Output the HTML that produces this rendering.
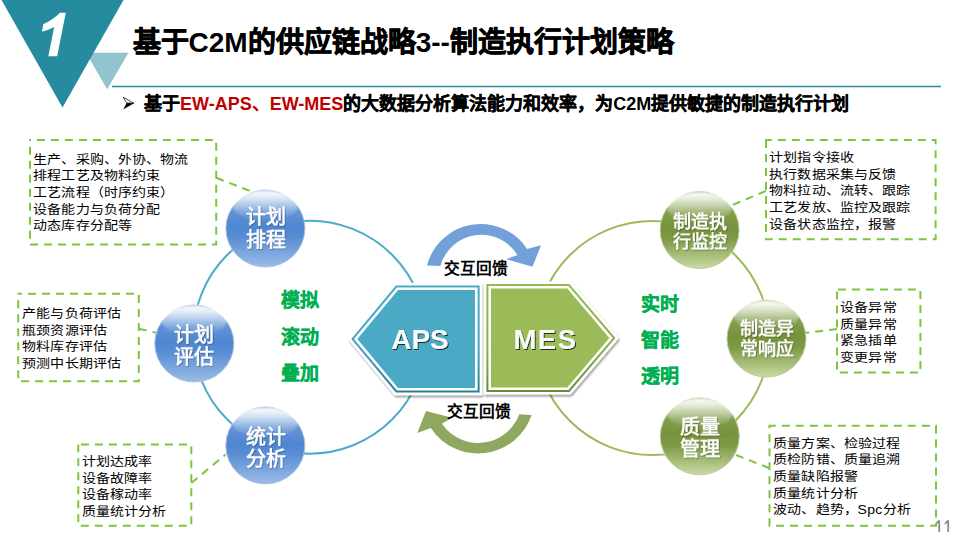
<!DOCTYPE html>
<html lang="zh-CN"><head><meta charset="utf-8">
<style>
html,body{margin:0;padding:0;background:#fff}
body{width:960px;height:540px;overflow:hidden;position:relative;font-family:"Liberation Sans",sans-serif}
svg{position:absolute;left:0;top:0}
</style></head><body>
<svg width="960" height="540" viewBox="0 0 960 540" font-family="Liberation Sans, sans-serif">
<defs>
  <linearGradient id="sB" x1="0" y1="0" x2="0" y2="1">
    <stop offset="0" stop-color="#7aa5dd"/>
    <stop offset="0.48" stop-color="#4f86d1"/>
    <stop offset="0.62" stop-color="#5a8ed4"/>
    <stop offset="1" stop-color="#9bbce7"/>
  </linearGradient>
  <linearGradient id="sG" x1="0" y1="0" x2="0" y2="1">
    <stop offset="0" stop-color="#94ae62"/>
    <stop offset="0.48" stop-color="#76923c"/>
    <stop offset="0.62" stop-color="#7e9a45"/>
    <stop offset="1" stop-color="#c9dba4"/>
  </linearGradient>
  <linearGradient id="gloss" x1="0" y1="0" x2="0" y2="1">
    <stop offset="0" stop-color="#fff" stop-opacity="1"/>
    <stop offset="0.25" stop-color="#fff" stop-opacity="0.75"/>
    <stop offset="0.7" stop-color="#fff" stop-opacity="0.22"/>
    <stop offset="1" stop-color="#fff" stop-opacity="0"/>
  </linearGradient>
  <filter id="sh" x="-20%" y="-20%" width="140%" height="140%">
    <feGaussianBlur in="SourceAlpha" stdDeviation="1.3"/>
    <feOffset dx="0.5" dy="1.5"/>
    <feComponentTransfer><feFuncA type="linear" slope="0.4"/></feComponentTransfer>
    <feMerge><feMergeNode/><feMergeNode in="SourceGraphic"/></feMerge>
  </filter>
  <filter id="ts" x="-10%" y="-10%" width="120%" height="130%">
    <feGaussianBlur in="SourceAlpha" stdDeviation="0.4"/>
    <feOffset dx="1" dy="1.2"/>
    <feComponentTransfer><feFuncA type="linear" slope="0.75"/></feComponentTransfer>
    <feMerge><feMergeNode/><feMergeNode in="SourceGraphic"/></feMerge>
  </filter>
  <filter id="ts2" x="-10%" y="-10%" width="120%" height="130%">
    <feGaussianBlur in="SourceAlpha" stdDeviation="0.6"/>
    <feOffset dx="0.6" dy="0.8"/>
    <feComponentTransfer><feFuncA type="linear" slope="0.25"/></feComponentTransfer>
    <feMerge><feMergeNode/><feMergeNode in="SourceGraphic"/></feMerge>
  </filter>
  <g id="sphB">
    <ellipse cx="0" cy="0" rx="39.5" ry="38.5" fill="url(#sB)" stroke="#a8bede" stroke-width="1"/>
    <ellipse cx="0" cy="-23" rx="33" ry="15" fill="url(#gloss)" filter="url(#gb)"/>
  </g>
  <g id="sphG">
    <ellipse cx="0" cy="0" rx="39.5" ry="38.5" fill="url(#sG)" stroke="#bccd9e" stroke-width="1"/>
    <ellipse cx="0" cy="-23" rx="33" ry="15" fill="url(#gloss)" filter="url(#gb)"/>
  </g>
  <linearGradient id="olB" x1="0" y1="0" x2="0" y2="1">
    <stop offset="0" stop-color="#4aaac6"/><stop offset="0.6" stop-color="#43a3bf"/><stop offset="1" stop-color="#2b7f98"/>
  </linearGradient>
  <linearGradient id="olG" x1="0" y1="0" x2="0" y2="1">
    <stop offset="0" stop-color="#94b850"/><stop offset="0.6" stop-color="#8aae48"/><stop offset="1" stop-color="#6a8a34"/>
  </linearGradient>
  <filter id="gb" x="-10%" y="-20%" width="120%" height="140%"><feGaussianBlur stdDeviation="0.9"/></filter>
</defs>

<!-- header triangles -->
<polygon points="86,52.8 128.5,52.8 107.2,89.2" fill="#91c4cf"/>
<polygon points="1.5,0 123.5,0 62.5,107.5" fill="#268b9f"/>
<line x1="112" y1="86.5" x2="941" y2="86.5" stroke="#2c8aa0" stroke-width="1.6"/>
<path d="M60,12.8 L65.8,12.8 L57.2,56.3 L48.3,56.3 L54.2,27 C50,29 46,30.6 42,31.8 L43.3,24.2 C50,21.2 55.5,17.5 60,12.8 Z" fill="#fff"/>

<!-- title -->
<text x="132.5" y="51.8" font-size="28" font-weight="bold" fill="#000" ><tspan stroke="#000" stroke-width="0.7">基于</tspan>C2M<tspan stroke="#000" stroke-width="0.7">的供应链战略</tspan>3--<tspan stroke="#000" stroke-width="0.7">制造执行计划策略</tspan></text>
<!-- subtitle -->
<path d="M123.1,97.1 L134,103.3 L126.7,102.9 Z" fill="none" stroke="#000" stroke-width="0.7" stroke-linejoin="miter"/>
<path d="M126.7,102.9 L134,103.3 L123.1,109.6 Z" fill="#000"/>
<text x="144" y="110.2" font-size="18" font-weight="bold" fill="#000"><tspan stroke="#000" stroke-width="0.35">基于</tspan><tspan fill="#c00000">EW-APS、EW-MES</tspan><tspan stroke="#000" stroke-width="0.35">的大数据分析算法能力和效率，为</tspan>C2M<tspan stroke="#000" stroke-width="0.35">提供敏捷的制造执行计划</tspan></text>

<!-- big circles -->
<circle cx="309.7" cy="337.2" r="116.5" fill="none" stroke="#4bacc6" stroke-width="2"/>
<circle cx="652.5" cy="338" r="117.1" fill="none" stroke="#9bbb59" stroke-width="2"/>

<!-- dashed boxes -->
<g fill="none" stroke="#7fc53c" stroke-width="2" stroke-dasharray="8 6">
  <rect x="30" y="140" width="186.2" height="104.6" stroke-dashoffset="7.1"/>
  <rect x="18.2" y="293.8" width="120.6" height="87.5" stroke-dashoffset="4.2"/>
  <rect x="78.3" y="444.6" width="113" height="81.1" stroke-dashoffset="11.4"/>
  <rect x="766" y="140" width="169.6" height="99.3" stroke-dashoffset="2.2"/>
  <rect x="837" y="289.6" width="83.4" height="83" stroke-dashoffset="13.1"/>
  <rect x="769.5" y="425.8" width="166.5" height="99.9" stroke-dashoffset="1.7"/>
  <line x1="216.2" y1="177.8" x2="250" y2="191"/>
  <line x1="138.8" y1="328.8" x2="156" y2="332.7"/>
  <line x1="191.3" y1="483.1" x2="225.6" y2="454.4"/>
  <line x1="766" y1="190.9" x2="732.6" y2="205"/>
  <line x1="837" y1="329" x2="806" y2="332.8"/>
  <line x1="769.5" y1="468.2" x2="734.8" y2="454.5"/>
</g>

<!-- spheres -->
<use href="#sphB" x="265.4" y="228.5"/>
<use href="#sphB" x="194.3" y="343.5"/>
<use href="#sphB" x="265.3" y="445.4"/>
<use href="#sphG" x="699.6" y="230"/>
<use href="#sphG" x="766.5" y="338.6"/>
<use href="#sphG" x="699.8" y="436.3"/>

<!-- sphere text -->
<g fill="#fafafa" font-weight="bold" text-anchor="middle" filter="url(#ts2)">
  <text x="265.6" y="223.8" font-size="20">计划</text>
  <text x="265.6" y="246.5" font-size="20">排程</text>
  <text x="194" y="341.5" font-size="20">计划</text>
  <text x="194" y="364.2" font-size="20">评估</text>
  <text x="265.5" y="443.5" font-size="20">统计</text>
  <text x="265.5" y="466" font-size="20">分析</text>
  <text x="700" y="227.5" font-size="18">制造执</text>
  <text x="700" y="247.5" font-size="18">行监控</text>
  <text x="766.5" y="334.8" font-size="18">制造异</text>
  <text x="766.5" y="354.8" font-size="18">常响应</text>
  <text x="700" y="434" font-size="20">质量</text>
  <text x="700" y="456.3" font-size="20">管理</text>
</g>

<!-- APS / MES -->
<g filter="url(#sh)">
  <polygon points="347.9,339.0 394.7,282.8 482.2,282.8 482.2,395.2 394.7,395.2" fill="#fff"/>
  <polygon points="483.8,281.4 570.6,281.4 618.9,338.0 570.6,394.6 483.8,394.6" fill="#fff"/>
</g>
<polygon points="351.3,339.0 395.9,285.4 479.6,285.4 479.6,392.6 395.9,392.6" fill="url(#olB)"/>
<polygon points="353.9,339.0 396.9,287.4 477.6,287.4 477.6,390.6 396.9,390.6" fill="#fff"/>
<polygon points="357.3,339.0 398.1,290.0 475.0,290.0 475.0,388.0 398.1,388.0" fill="#4aa9c5"/>
<polygon points="486.4,284.0 569.4,284.0 615.4,338.0 569.4,392.0 486.4,392.0" fill="url(#olG)"/>
<polygon points="488.4,286.0 568.5,286.0 612.8,338.0 568.5,390.0 488.4,390.0" fill="#fff"/>
<polygon points="491.0,288.6 567.3,288.6 609.4,338.0 567.3,387.4 491.0,387.4" fill="#9bbb59"/>
<g fill="#fafafa" font-weight="bold" font-size="27.5" text-anchor="middle" filter="url(#ts)">
  <text x="420" y="348.8" font-size="28">APS</text>
  <text x="545.5" y="348.8" letter-spacing="1.5">MES</text>
</g>

<!-- arrows -->
<path d="M427,265.5 A55.5,55.5 0 0 1 527.1,249 L541,245.3 L532.5,266.75 L506.25,259.25 L517.5,254.9 A42.6,42.6 0 0 0 440.3,266.1 Z" fill="#72a1da"/>
<path d="M531.6,415 A56.5,56.5 0 0 1 430.8,428 L417.3,433 L426,411 L452,417.7 L442,423.7 A43.8,43.8 0 0 0 519.3,414.3 Z" fill="#8ea860"/>
<text x="444.3" y="273.7" font-size="15.7" font-weight="bold" fill="#000">交互回馈</text>
<text x="447.3" y="416.7" font-size="15.7" font-weight="bold" fill="#000">交互回馈</text>

<!-- green words -->
<g fill="#00b050" stroke="#00b050" stroke-width="0.3" font-size="19" font-weight="bold">
  <text x="281" y="307">模拟</text>
  <text x="281" y="343.5">滚动</text>
  <text x="281" y="379.5">叠加</text>
  <text x="641" y="311">实时</text>
  <text x="641" y="347">智能</text>
  <text x="641" y="383">透明</text>
</g>

<!-- box texts -->
<g fill="#000" font-size="14" letter-spacing="0.3">
  <g transform="translate(33.4,163.6) scale(1,0.89)"><text x="0" y="0">生产、采购、外协、物流</text><text x="0" y="18.7">排程工艺及物料约束</text><text x="0" y="37.4">工艺流程（时序约束）</text><text x="0" y="56.1">设备能力与负荷分配</text><text x="0" y="74.8">动态库存分配等</text></g>
  <g transform="translate(22.4,318.3) scale(1,0.89)"><text x="0" y="0">产能与负荷评估</text><text x="0" y="18.45">瓶颈资源评估</text><text x="0" y="36.9">物料库存评估</text><text x="0" y="55.35">预测中长期评估</text></g>
  <g transform="translate(81.9,466.1) scale(1,0.89)"><text x="0" y="0">计划达成率</text><text x="0" y="18.7">设备故障率</text><text x="0" y="37.4">设备稼动率</text><text x="0" y="56.1">质量统计分析</text></g>
  <g transform="translate(769.4,162.2) scale(1,0.89)"><text x="0" y="0">计划指令接收</text><text x="0" y="18.7">执行数据采集与反馈</text><text x="0" y="37.4">物料拉动、流转、跟踪</text><text x="0" y="56.1">工艺发放、监控及跟踪</text><text x="0" y="74.8">设备状态监控，报警</text></g>
  <g transform="translate(840.4,311.9) scale(1,0.89)"><text x="0" y="0">设备异常</text><text x="0" y="18.7">质量异常</text><text x="0" y="37.4">紧急插单</text><text x="0" y="56.1">变更异常</text></g>
  <g transform="translate(773.4,447.6) scale(1,0.89)"><text x="0" y="0">质量方案、检验过程</text><text x="0" y="18.7">质检防错、质量追溯</text><text x="0" y="37.4">质量缺陷报警</text><text x="0" y="56.1">质量统计分析</text><text x="0" y="74.8">波动、趋势，Spc分析</text></g>
</g>
<g fill="#8c8c8c"><path d="M938.2,520.3 L940.1,520.3 L940.1,532 L938.3,532 L938.3,523 L935.6,524.8 L935.6,523 Z"/><path d="M947.2,520.3 L949.1,520.3 L949.1,532 L947.3,532 L947.3,523 L944.6,524.8 L944.6,523 Z"/></g>
</svg>
</body></html>
